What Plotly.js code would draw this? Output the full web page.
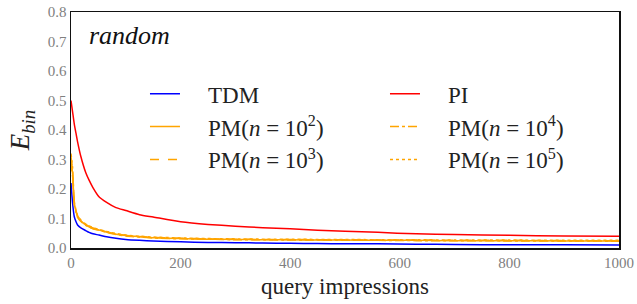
<!DOCTYPE html>
<html>
<head>
<meta charset="utf-8">
<script src="https://cdn.plot.ly/plotly-3.0.1.min.js"></script>
<style>html,body{margin:0;padding:0;background:#fff;}#chart{width:637px;height:304px;}</style>
</head>
<body>
<div id="chart"></div>
<script>
// query impressions
const impressions = [0, 3, 6, 9, 12, 18, 27, 33, 40, 51, 65, 82, 100, 125, 150, 200, 250, 300, 350, 400, 450, 500, 560, 630, 700, 800, 900, 1000];
const tdm  = [0.22, 0.15, 0.106, 0.090, 0.078, 0.068, 0.059, 0.053, 0.048, 0.044, 0.038, 0.033, 0.029, 0.026, 0.024, 0.021, 0.019, 0.018, 0.017, 0.016, 0.015, 0.014, 0.014, 0.013, 0.012, 0.011, 0.011, 0.010];
const pi   = [0.50, 0.46, 0.42, 0.39, 0.36, 0.31, 0.255, 0.23, 0.205, 0.174, 0.155, 0.137, 0.127, 0.113, 0.105, 0.089, 0.080, 0.074, 0.069, 0.065, 0.060, 0.057, 0.053, 0.048, 0.046, 0.043, 0.041, 0.040];
const pm2  = [0.30, 0.25, 0.150, 0.125, 0.106, 0.092, 0.078, 0.072, 0.066, 0.061, 0.054, 0.047, 0.042, 0.038, 0.035, 0.032, 0.030, 0.029, 0.028, 0.028, 0.027, 0.027, 0.026, 0.026, 0.025, 0.025, 0.024, 0.024];
const pm3  = [0.31, 0.26, 0.155, 0.128, 0.109, 0.094, 0.080, 0.073, 0.068, 0.062, 0.055, 0.048, 0.043, 0.039, 0.036, 0.033, 0.031, 0.030, 0.029, 0.029, 0.028, 0.028, 0.027, 0.027, 0.026, 0.026, 0.025, 0.025];
const pm4  = [0.29, 0.24, 0.148, 0.123, 0.104, 0.090, 0.077, 0.071, 0.065, 0.060, 0.053, 0.046, 0.041, 0.037, 0.034, 0.031, 0.030, 0.028, 0.028, 0.027, 0.027, 0.026, 0.026, 0.025, 0.025, 0.024, 0.024, 0.023];
const pm5  = [0.32, 0.27, 0.158, 0.130, 0.110, 0.095, 0.081, 0.075, 0.069, 0.063, 0.056, 0.049, 0.044, 0.040, 0.037, 0.034, 0.032, 0.031, 0.030, 0.030, 0.029, 0.029, 0.028, 0.028, 0.027, 0.027, 0.026, 0.026];
const names = ['TDM', 'PI', 'PM(<i>n</i> = 10<sup>2</sup>)', 'PM(<i>n</i> = 10<sup>4</sup>)', 'PM(<i>n</i> = 10<sup>3</sup>)', 'PM(<i>n</i> = 10<sup>5</sup>)'];
const yTicks = [0, 0.1, 0.2, 0.3, 0.4, 0.5, 0.6, 0.7, 0.8];
const xTicks = [0, 200, 400, 600, 800, 1000];

const serif = 'Liberation Serif, Times New Roman, serif';
const pad = '\u2002\u2002';
function tr(y, name, color, dash, w) {
  return {x: impressions, y: y, name: pad + name, type: 'scatter', mode: 'lines',
          line: {color: color, width: w, dash: dash, shape: 'spline', smoothing: 0.6}};
}
const data = [
  tr(tdm, names[0], '#0000ff', 'solid', 1.5),
  tr(pi, names[1], '#ff0000', 'solid', 1.5),
  tr(pm2, names[2], '#ffa500', 'solid', 1.5),
  tr(pm4, names[3], '#ffa500', 'dashdot', 1.5),
  tr(pm3, names[4], '#ffa500', 'dash', 1.5),
  tr(pm5, names[5], '#ffa500', 'dot', 1.5)
];
const layout = {
  width: 637, height: 304,
  margin: {l: 71, r: 16, t: 12, b: 56},
  paper_bgcolor: '#fff', plot_bgcolor: '#fff',
  font: {family: serif, color: '#222'},
  showlegend: true,
  legend: {orientation: 'h', x: 0.135, y: 0.745, xanchor: 'left', yanchor: 'top',
           entrywidth: 195, font: {family: serif, size: 23, color: '#222'},
           bgcolor: 'rgba(0,0,0,0)', traceorder: 'normal'},
  xaxis: {range: [0, 1000], tickvals: xTicks, ticktext: xTicks.map(String), showgrid: false, zeroline: false,
          showline: true, mirror: true, linecolor: '#111', linewidth: 1.5, ticks: '',
          tickfont: {family: serif, size: 15, color: '#808080'},
          title: {text: 'query impressions', font: {family: serif, size: 23, color: '#222'}, standoff: 8}},
  yaxis: {range: [0, 0.8], tickvals: yTicks, ticktext: yTicks.map(v => v.toFixed(1)), showgrid: false, zeroline: false,
          showline: true, mirror: true, linecolor: '#111', linewidth: 1.5, ticks: '',
          tickfont: {family: serif, size: 15, color: '#808080'},
          title: {text: '<i>E</i><sub><i>bin</i></sub>', font: {family: serif, size: 27, color: '#222'}, standoff: 10}},
  annotations: [{text: '<i>random</i>', xref: 'paper', yref: 'paper', x: 0.03, y: 0.97, xanchor: 'left', yanchor: 'top',
                 showarrow: false, font: {family: serif, size: 26, color: '#111'}}]
};
Plotly.newPlot('chart', data, layout, {staticPlot: true, displayModeBar: false});
</script>
</body>
</html>
